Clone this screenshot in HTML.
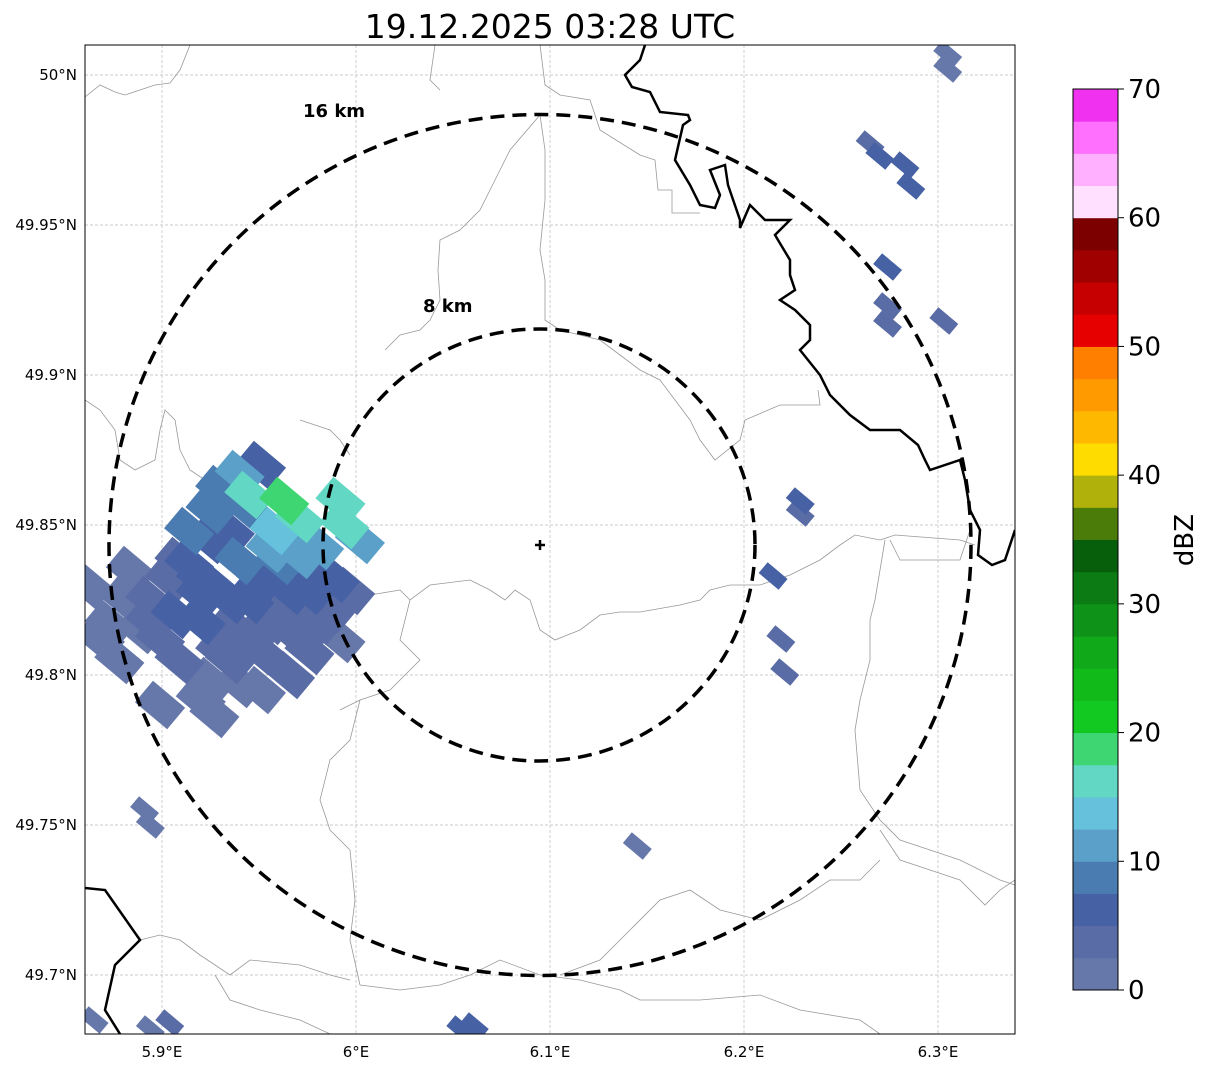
<!DOCTYPE html>
<html><head><meta charset="utf-8"><style>
html,body{margin:0;padding:0;background:#fff}
body{width:1207px;height:1069px;overflow:hidden;font-family:"DejaVu Sans","Liberation Sans",sans-serif}
</style></head><body>
<svg id="chart" width="1207" height="1069" xmlns="http://www.w3.org/2000/svg" font-family="DejaVu Sans, Liberation Sans, sans-serif">
<text x="550" y="38" font-size="33" text-anchor="middle">19.12.2025 03:28 UTC</text>
<defs><clipPath id="clip"><rect x="85" y="45" width="930" height="989"/></clipPath></defs>
<g id="grid"></g>
<g clip-path="url(#clip)">
<g id="borders" fill="none" stroke="#999" stroke-width="0.8">
<path d="M85,97 L100,85 L115,92 L125,95 L140,90 L155,85 L170,83 L180,70 L190,45"/>
<path d="M435,45 L430,80 L440,90"/>
<path d="M540,45 L545,85 L560,95 L590,100 L600,130 L640,155 L655,160 L658,190 L672,190 L672,213 L700,213"/>
<path d="M540,115 L510,150 L495,180 L480,210 L460,230 L440,240 L438,270 L440,300 L430,320 L420,330 L400,335 L385,350"/>
<path d="M540,115 L545,150 L545,200 L540,250 L545,280 L545,320 L560,330 L600,340 L620,355 L640,370 L660,380 L675,400 L690,420 L700,440 L715,460 L740,440 L745,420 L780,405 L820,405 L818,390"/>
<path d="M85,400 L100,410 L115,430 L120,460 L135,470 L155,460 L160,430 L165,410 L175,420 L180,450 L190,470 L205,480"/>
<path d="M300,420 L330,430 L340,440 L350,455"/>
<path d="M330,605 L350,600 L370,595 L400,590 L410,600 L430,585 L470,580 L490,590 L505,600 L515,590 L530,600 L540,630 L555,640 L580,630 L600,615 L620,612 L640,612 L680,605 L700,600 L710,590 L730,585 L760,585 L790,575 L820,560 L840,545 L855,535 L880,540 L895,535 L960,540 L975,545"/>
<path d="M885,540 L880,570 L875,600 L870,620 L870,660 L860,700 L855,730 L860,790 L880,820 L900,840 L930,850 L960,860 L1000,880 L1015,885"/>
<path d="M890,540 L900,560 L960,560 L970,530"/>
<path d="M410,600 L405,620 L400,640 L420,660 L410,670 L390,690 L360,700 L340,710"/>
<path d="M360,700 L350,740 L330,760 L320,800 L330,830 L350,850 L355,900 L350,940 L360,985 L400,990 L440,985 L470,975 L500,960 L540,975 L580,980 L620,990 L640,1000 L700,1000 L760,995 L800,1010 L860,1020 L880,1034"/>
<path d="M560,975 L600,960 L630,930 L660,900 L690,890 L720,910 L760,920 L800,900 L830,880 L860,880 L880,860"/>
<path d="M140,940 L160,935 L180,940 L200,955 L230,975 L250,960 L300,965 L330,975 L350,980"/>
<path d="M215,975 L230,1000 L260,1010 L300,1020 L330,1034"/>
<path d="M880,830 L900,860 L930,870 L960,880 L985,905 L1000,890 L1015,880"/>
</g>
<g fill="none" stroke="#000" stroke-width="2.5">
<path d="M645,45 L640,60 L625,75 L632,87 L650,92 L660,112 L688,115 L690,120 L683,125 L675,160 L690,185 L700,205 L715,208 L720,195 L710,170 L725,165 L728,185 L740,220 L740,228 L750,205 L765,220 L790,220 L775,235 L790,260 L790,275 L795,290 L780,300 L795,310 L810,325 L810,340 L800,350 L820,375 L830,395 L850,415 L870,430 L900,430 L918,445 L925,460 L930,470 L960,460 L965,480 L970,510 L980,530 L978,555 L992,565 L1005,560 L1015,530"/>
<path d="M85,888 L105,890 L140,940 L115,965 L105,1010 L120,1034"/>
</g>
<g id="echoes"></g>
</g>
<ellipse cx="540" cy="545" rx="431" ry="430.5" fill="none" stroke="#000" stroke-width="3.5" stroke-dasharray="14,8"/>
<ellipse cx="539" cy="545" rx="216" ry="216" fill="none" stroke="#000" stroke-width="3.5" stroke-dasharray="14,8"/>
<text x="303" y="117" font-size="18" font-weight="bold">16 km</text>
<text x="423" y="312" font-size="18" font-weight="bold">8 km</text>
<path d="M535,545 L545,545 M540,540 L540,550" stroke="#000" stroke-width="2.5"/>
<rect x="85" y="45" width="930" height="989" fill="none" stroke="#000" stroke-width="1"/>
<g id="axes" font-size="15"></g>
<g id="cbar"></g>
<text x="0" y="0" font-size="26" text-anchor="middle" transform="translate(1193,540) rotate(-90)">dBZ</text>
</svg>
<script>
const NS='http://www.w3.org/2000/svg';
const lonTicks=[5.9,6.0,6.1,6.2,6.3];
const lonLabels=['5.9°E','6°E','6.1°E','6.2°E','6.3°E'];
const latTicks=[50.0,49.95,49.9,49.85,49.8,49.75,49.7];
const latLabels=['50°N','49.95°N','49.9°N','49.85°N','49.8°N','49.75°N','49.7°N'];
const cbarTicks=[0,10,20,30,40,50,60,70];
const levelColors=['#6677aa','#5a6ca6','#4661a4','#4a7bb1','#5aa0c9','#66c1dc','#62d8c4','#3ed672','#12c921','#11b919','#10a91a','#0e9217','#0c7b14','#075f0c','#4b7c09','#b0b10a','#ffdc00','#ffb800','#ff9a00','#ff7f00','#e60000','#c60000','#a00000','#7c0000','#ffe0ff','#ffb0ff','#ff70ff','#f032f0'];
// main cluster cells: lon, lat, dBZ
const clusterLon=[5.873,5.868,5.881,5.894,5.904,5.914,5.925,5.935,5.945,5.925,5.930,5.940,5.951,5.945,5.963,5.971,5.958,5.981,5.992,5.994,5.989,5.976,5.966,5.956,5.945,5.935,5.925,5.920,5.927,5.909,5.899,5.894,5.920,5.935,5.951,5.961,5.971,5.940,5.914,5.920,5.907,5.992,5.981,5.884,5.889,5.951,5.940,5.878,6.002,5.966,5.976,5.899,5.862,
5.909,5.920,5.930,5.935,5.945,5.951,5.966,5.971,5.987,5.997,5.930,5.956,5.981];
const clusterLat=[49.817,49.812,49.825,49.825,49.832,49.837,49.845,49.848,49.855,49.855,49.862,49.867,49.870,49.860,49.858,49.852,49.848,49.843,49.858,49.850,49.832,49.828,49.823,49.818,49.812,49.805,49.798,49.792,49.787,49.805,49.812,49.818,49.818,49.825,49.832,49.838,49.840,49.838,49.848,49.827,49.820,49.812,49.818,49.835,49.815,49.795,49.797,49.805,49.845,49.800,49.808,49.790,49.830,
49.838,49.832,49.828,49.815,49.825,49.808,49.828,49.812,49.822,49.828,49.808,49.842,49.832];
const clusterDbz=[2,2,2,3,3,5,5,7,8,8,9,12,5,17,18,15,13,10,16,15,5,6,4,3,3,3,2,2,2,3,3,3,6,6,7,9,10,8,8,7,5,2,3,2,2,1,2,2,12,3,4,2,1,
4,6,5,3,5,3,6,3,4,3,3,11,6];
// isolated cells
const isoLon=[5.894,5.891,6.145,6.229,6.229,6.215,6.219,6.221,6.274,6.274,6.274,6.303,6.305,6.305,6.283,6.265,6.270,6.286,6.061,6.054,5.904,5.865,5.894];
const isoLat=[49.750,49.755,49.743,49.858,49.854,49.833,49.812,49.801,49.936,49.923,49.917,49.918,50.007,50.002,49.970,49.977,49.973,49.963,49.683,49.682,49.684,49.685,49.682];
const isoDbz=[2,2,2,6,3,6,3,3,7,4,4,4,2,2,6,4,5,5,6,5,3,2,2];
const x=lon=>162+(lon-5.9)*1940;
const y=lat=>75+(50-lat)*3000;
const cy=v=>990-v*(901/70);
const grid=document.getElementById('grid'),axes=document.getElementById('axes');
lonTicks.forEach((t,i)=>{
 const l=document.createElementNS(NS,'line');
 
 
 l.setAttribute('x1',x(t));l.setAttribute('x2',x(t));l.setAttribute('y1',45);l.setAttribute('y2',1034);
 l.setAttribute('stroke','#bbb');l.setAttribute('stroke-width','0.7');l.setAttribute('stroke-dasharray','3,2');
 grid.appendChild(l);
 const tx=document.createElementNS(NS,'text');
 
 
 tx.setAttribute('x',x(t));tx.setAttribute('y',1057);tx.setAttribute('text-anchor','middle');
 tx.textContent=lonLabels[i];axes.appendChild(tx);
});
latTicks.forEach((t,i)=>{
 const l=document.createElementNS(NS,'line');
 
 
 l.setAttribute('x1',85);l.setAttribute('x2',1015);l.setAttribute('y1',y(t));l.setAttribute('y2',y(t));
 l.setAttribute('stroke','#bbb');l.setAttribute('stroke-width','0.7');l.setAttribute('stroke-dasharray','3,2');
 grid.appendChild(l);
 const tx=document.createElementNS(NS,'text');
 
 
 tx.setAttribute('x',77);tx.setAttribute('y',y(t)+5);tx.setAttribute('text-anchor','end');
 tx.textContent=latLabels[i];axes.appendChild(tx);
});
const echoes=document.getElementById('echoes');
function drawCells(lons,lats,dbz,w,h){
 const order=dbz.map((d,i)=>i).sort((a,b)=>dbz[a]-dbz[b]);
 order.forEach(i=>{
  const r=document.createElementNS(NS,'rect');
  
  
  r.setAttribute('x',-w/2);r.setAttribute('y',-h/2);r.setAttribute('width',w);r.setAttribute('height',h);
  r.setAttribute('fill',levelColors[Math.min(27,Math.floor(dbz[i]/2.5))]);
  r.setAttribute('transform','translate('+x(lons[i])+','+y(lats[i])+') rotate(40)');
  echoes.appendChild(r);
 });
}
drawCells(clusterLon,clusterLat,clusterDbz,42,28);
drawCells(isoLon,isoLat,isoDbz,26,14);
const cbar=document.getElementById('cbar');
levelColors.forEach((c,i)=>{
 const r=document.createElementNS(NS,'rect');
 
 
 r.setAttribute('x',1073);r.setAttribute('width',45);
 r.setAttribute('y',cy((i+1)*2.5));r.setAttribute('height',cy(i*2.5)-cy((i+1)*2.5)+0.5);
 r.setAttribute('fill',c);cbar.appendChild(r);
});
const fr=document.createElementNS(NS,'rect');


fr.setAttribute('x',1073);fr.setAttribute('y',89);fr.setAttribute('width',45);fr.setAttribute('height',901);
fr.setAttribute('fill','none');fr.setAttribute('stroke','#000');cbar.appendChild(fr);
cbarTicks.forEach(t=>{
 const l=document.createElementNS(NS,'line');
 
 
 l.setAttribute('x1',1118);l.setAttribute('x2',1124);l.setAttribute('y1',cy(t));l.setAttribute('y2',cy(t));
 l.setAttribute('stroke','#000');cbar.appendChild(l);
 const tx=document.createElementNS(NS,'text');
 
 
 tx.setAttribute('x',1128);tx.setAttribute('y',cy(t)+9);tx.setAttribute('font-size','26');
 tx.textContent=t;cbar.appendChild(tx);
});
</script>
</body></html>
